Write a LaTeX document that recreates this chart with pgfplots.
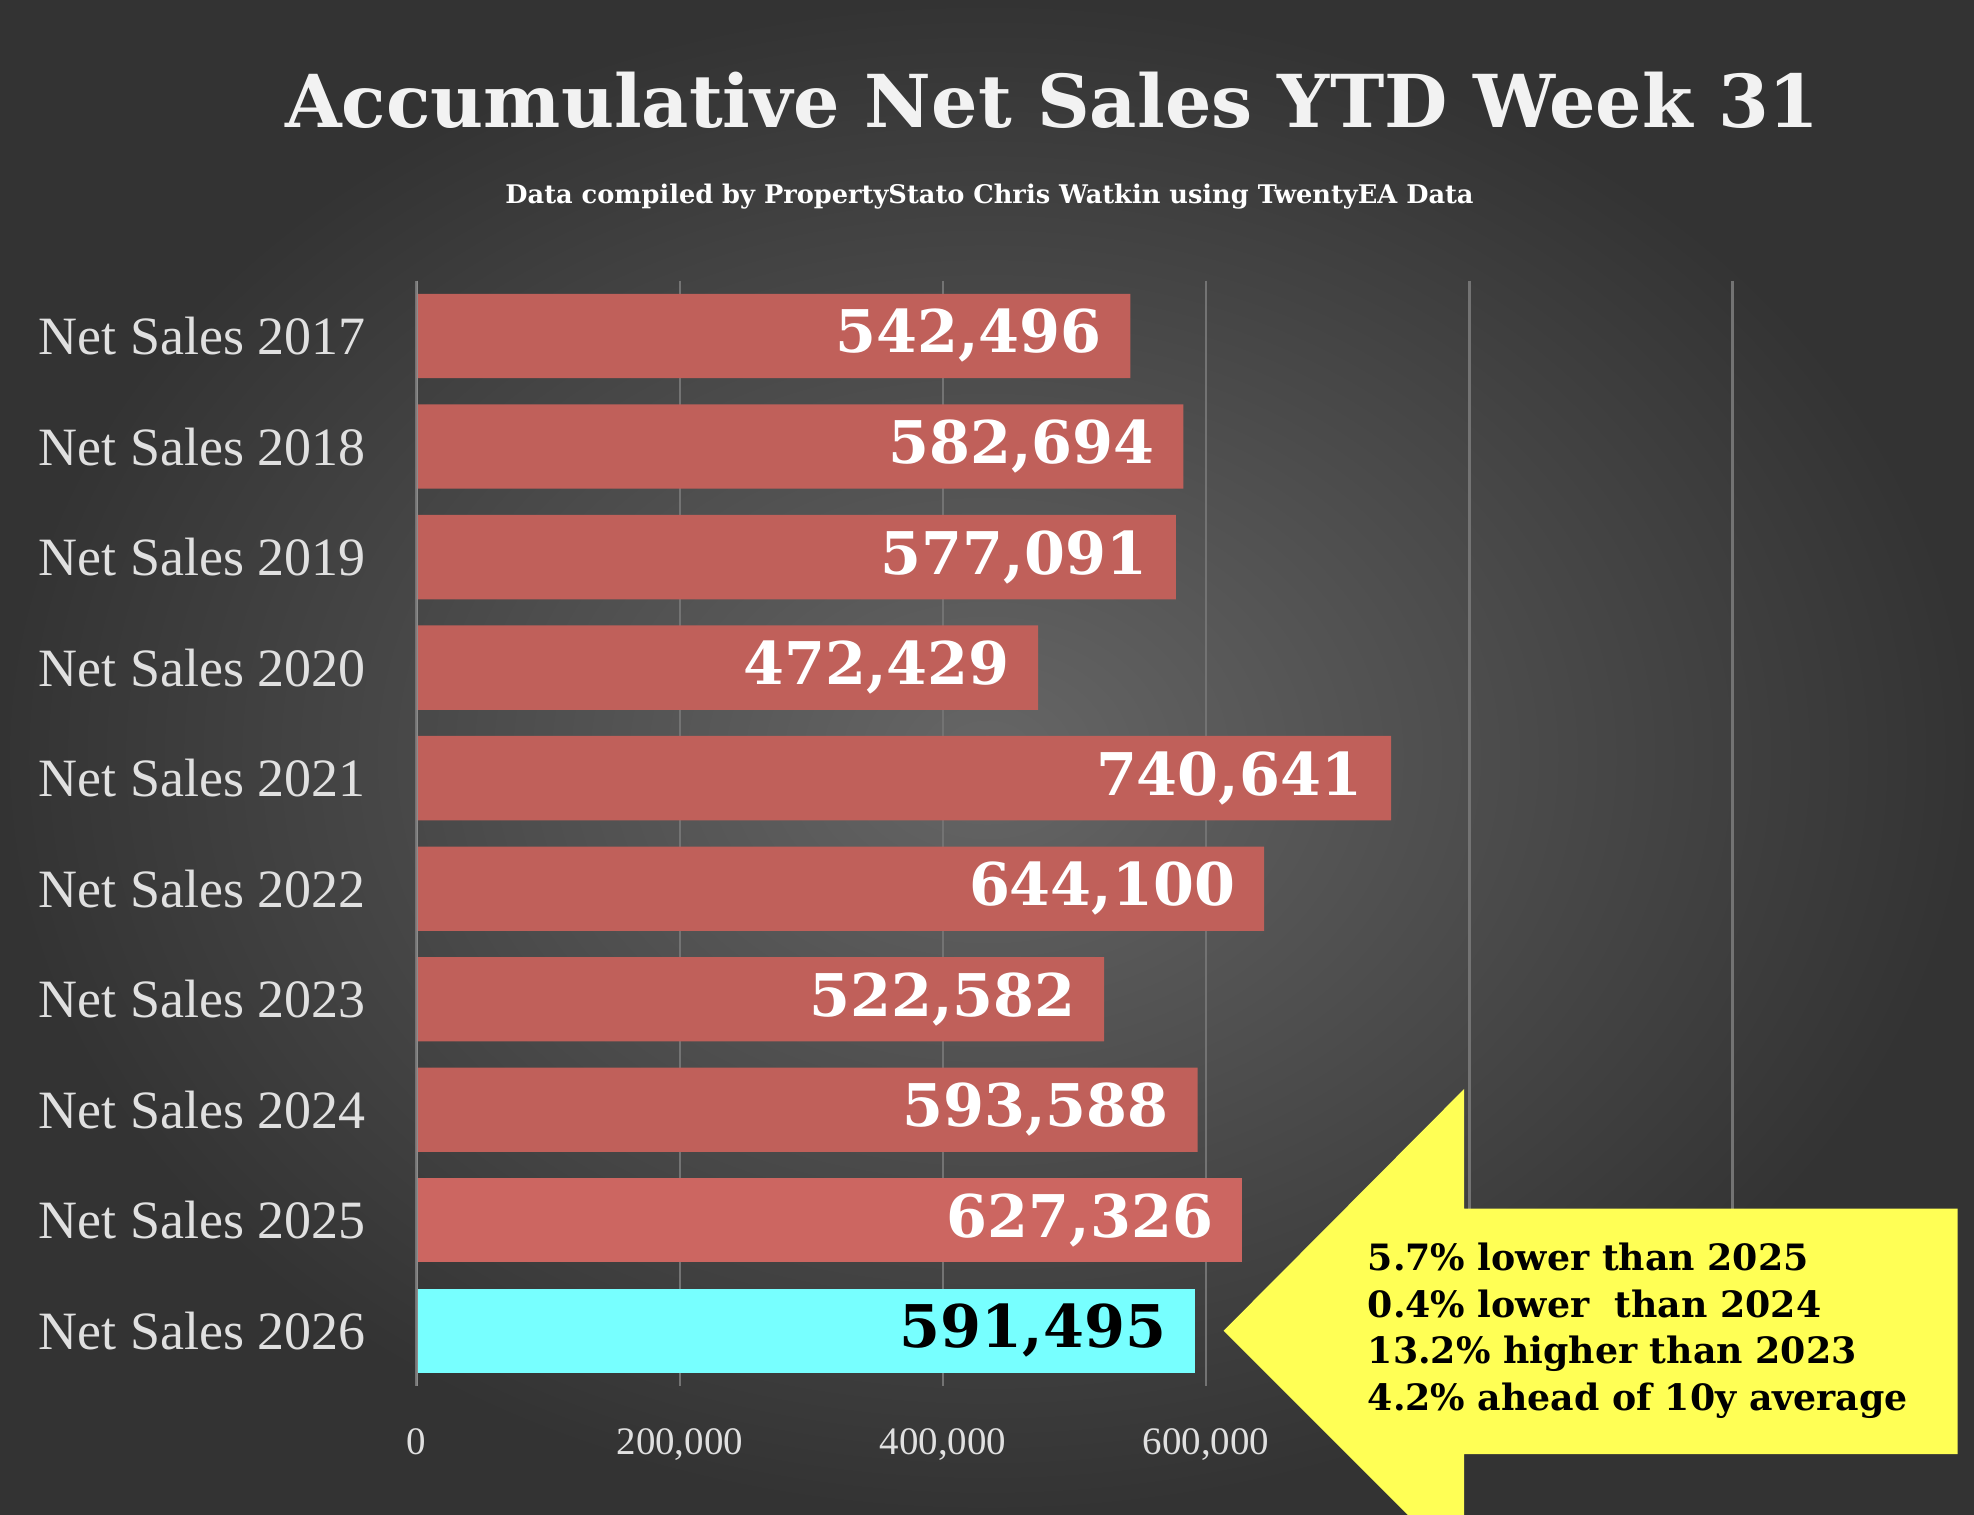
\documentclass[border=0pt]{standalone}
\usepackage{pgfplots}
\pgfplotsset{compat=1.18}
\usepackage{fontspec}
\setmainfont{Liberation Serif}
\newfontfamily\slab{DejaVu Serif}
\definecolor{barred}{HTML}{C0605A}
\definecolor{barred2}{HTML}{CC6661}
\definecolor{cyanbar}{HTML}{77FFFF}
\definecolor{ylw}{HTML}{FFFF55}
\begin{document}
\begin{tikzpicture}[x=1cm,y=1cm]
\clip (0,0) rectangle (15.68,12.03);
\shade[inner color=black!60, outer color=black!80] (0,0) rectangle (15.68,12.03);
\node[text=white!95!black,font=\slab\bfseries\fontsize{16.5}{20}\selectfont] at (8.36,11.23) {Accumulative Net Sales YTD Week 31};
\node[text=white,font=\slab\bfseries\fontsize{5.8}{8}\selectfont] at (7.86,10.47) {Data compiled by PropertyStato Chris Watkin using TwentyEA Data};
\begin{axis}[at={(3.31cm,1.02cm)},anchor=south west,scale only axis,
 width=10.45cm,height=8.78cm,
 xbar, bar width=0.67cm, bar shift=0pt,
 xmin=0,xmax=1000000,ymin=-0.5,ymax=9.5,y dir=reverse,
 ytick={0,...,9},
 yticklabels={Net Sales 2017,Net Sales 2018,Net Sales 2019,Net Sales 2020,Net Sales 2021,Net Sales 2022,Net Sales 2023,Net Sales 2024,Net Sales 2025,Net Sales 2026},
 xtick={0,200000,400000,600000,800000,1000000},
 xticklabels={0,{200,000},{400,000},{600,000},,},
 /pgf/number format/fixed,
 /pgf/number format/precision=0,
 /pgf/number format/1000 sep={,},
 /pgf/number format/assume math mode=true,
 major tick length=0pt,
 xmajorgrids, grid style={draw=black!55,line width=0.6pt},
 axis line style={draw=none},
 ticklabel style={text=black!12},
 yticklabel style={font=\fontsize{12.2}{14}\selectfont,xshift=-8pt},
 xticklabel style={font=\fontsize{8.8}{10}\selectfont,yshift=-6pt},
 nodes near coords, point meta=x,
 nodes near coords style={anchor=east,font=\slab\bfseries\fontsize{13.3}{16}\selectfont,text=white,xshift=-3pt},
]
\addplot[fill=barred,draw=none] coordinates {(542496,0) (582694,1) (577091,2) (472429,3) (740641,4) (644100,5) (522582,6) (593588,7)};
\addplot[fill=barred2,draw=none] coordinates {(627326,8)};
\addplot[fill=cyanbar,draw=none,nodes near coords style={text=black}] coordinates {(591495,9)};
\draw[black!45,line width=0.8pt] (axis cs:0,-0.5) -- (axis cs:0,9.5);
\end{axis}
\fill[ylw] (9.72,1.46) -- (11.63,3.38) -- (11.63,2.43) -- (15.55,2.43) -- (15.55,0.48) -- (11.63,0.48) -- (11.63,-0.45) -- cycle;
\node[anchor=west,align=left,font=\slab\bfseries\fontsize{8.2}{10.6}\selectfont] at (10.74,1.46) {5.7\% lower than 2025\\0.4\% lower\ \ than 2024\\13.2\% higher than 2023\\4.2\% ahead of 10y average};
\end{tikzpicture}
\end{document}
